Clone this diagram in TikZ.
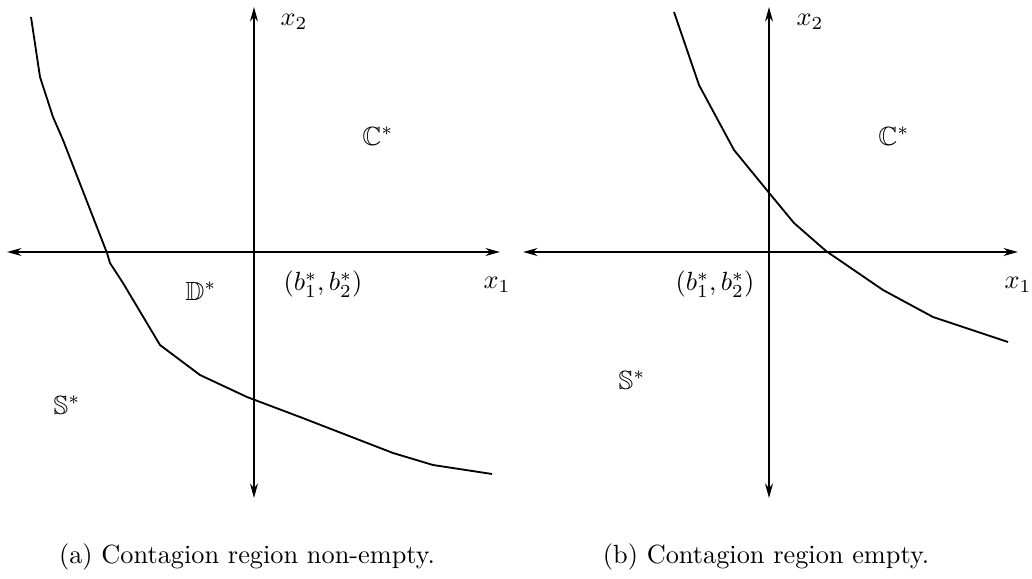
\documentclass[tikz,border=0pt]{standalone}
\usepackage{amssymb}
\usetikzlibrary{arrows.meta}
\begin{document}
\begin{tikzpicture}[x=0.38pt,y=-0.38pt,
  axis/.style={line width=0.85pt,{Stealth[length=5.5pt,width=3pt,inset=1.8pt]}-{Stealth[length=5.5pt,width=3pt,inset=1.8pt]}},
  curve/.style={line width=0.7pt},
  lbl/.style={inner sep=0pt},
  captext/.style={inner sep=0pt}]
\useasboundingbox (0,0) rectangle (1032,579);
% ---- panel (a)
\coordinate (aT) at (254,7);
\coordinate (aB) at (254,498);
\coordinate (aL) at (7,252);
\coordinate (aR) at (500,252);
\draw[axis] (aB) -- (aT);
\draw[axis] (aL) -- (aR);
\draw[curve] (31,17) -- (40,77) -- (53,117) -- (63,140) -- (107,253) -- (110,263)
  -- (123,283) -- (160,345) -- (200,375) -- (247,397) -- (300,417) -- (393,453)
  -- (433,465) -- (492,474);
\node[lbl] (ax2) at (294,22) {$x_2$};
\node[lbl] (ax1) at (497,285) {$x_1$};
\node[lbl] (aC) at (378,136) {$\mathbb{C}^*$};
\node[lbl] (aD) at (201,291) {$\mathbb{D}^*$};
\node[lbl] (aS) at (67,405) {$\mathbb{S}^*$};
\node[lbl] (ab) at (323,284) {$(b_1^*, b_2^*)$};
\node[captext] (capa) at (247,557) {(a) Contagion region non-empty.};
% ---- panel (b)
\coordinate (bT) at (769,7);
\coordinate (bB) at (769,498);
\coordinate (bL) at (523,252);
\coordinate (bR) at (1018,252);
\draw[axis] (bB) -- (bT);
\draw[axis] (bL) -- (bR);
\draw[curve] (674,12) -- (699,85) -- (734,150) -- (770,194) -- (794,223)
  -- (826,251) -- (883,290) -- (933,317) -- (1008,342);
\node[lbl] (bx2) at (810,22) {$x_2$};
\node[lbl] (bx1) at (1018,285) {$x_1$};
\node[lbl] (bC) at (894,136) {$\mathbb{C}^*$};
\node[lbl] (bS) at (632,380) {$\mathbb{S}^*$};
\node[lbl] (bb) at (715,284) {$(b_1^*, b_2^*)$};
\node[captext] (capb) at (766,557) {(b) Contagion region empty.};
\end{tikzpicture}
\end{document}
